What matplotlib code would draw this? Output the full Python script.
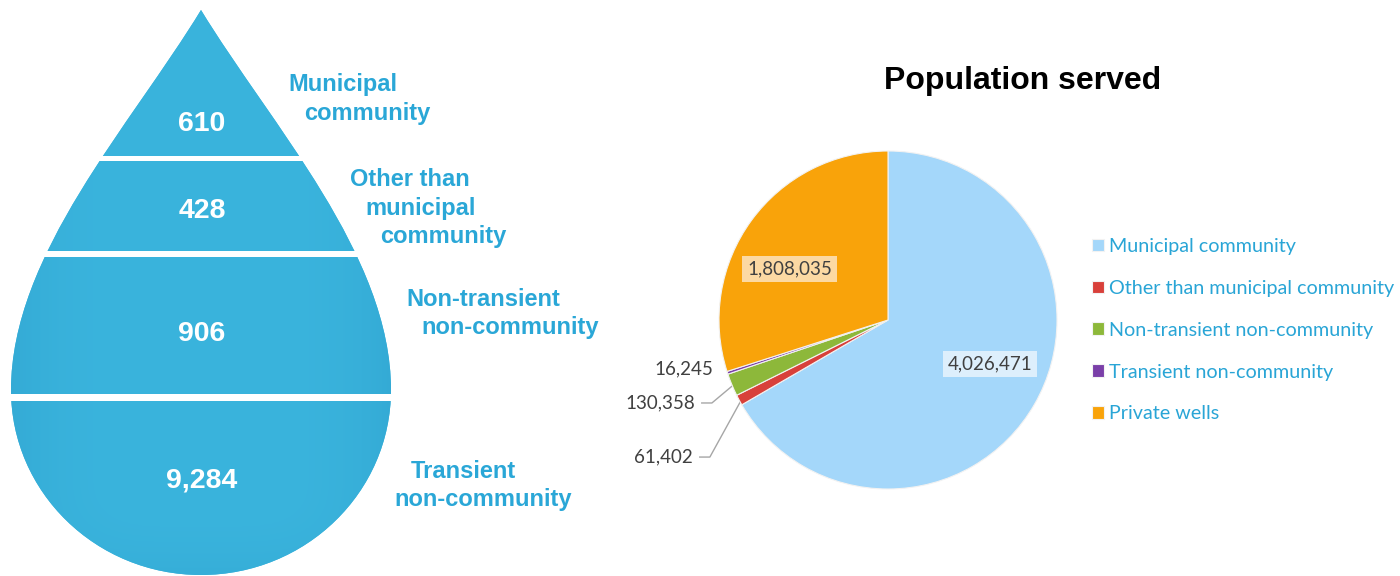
import matplotlib
matplotlib.use("Agg")
import matplotlib.pyplot as plt
import numpy as np
from matplotlib.path import Path
from matplotlib.patches import PathPatch, Rectangle

# ---------------- data ----------------
drop_labels = [["Municipal", "community"],
               ["Other than", "municipal", "community"],
               ["Non-transient", "non-community"],
               ["Transient", "non-community"]]
drop_counts = [610, 428, 906, 9284]

pie_categories = ["Municipal community", "Other than municipal community",
                  "Non-transient non-community", "Transient non-community",
                  "Private wells"]
population = [4026471, 61402, 130358, 16245, 1808035]
pie_colors = ["#A4D7FA", "#D8403A", "#8DB83A", "#7A3FA8", "#F9A30A"]
title = "Population served"

DROP_BLUE = "#3AB4DD"
LABEL_BLUE = "#2AA7D7"
LEGEND_BLUE = "#29A5D6"

fig = plt.figure(figsize=(14, 5.76), dpi=100)

# ---------------- water drop (pixel-space axes) ----------------
ax0 = fig.add_axes([0, 0, 1, 1])
ax0.set_xlim(0, 1400)
ax0.set_ylim(576, 0)
ax0.axis("off")

cx, tip_y, mid_y, hw, bot_y = 201, 10, 390, 190, 575
k = 0.5523
ry = bot_y - mid_y
verts = [
    (cx, tip_y),
    (cx + 70, tip_y + 115), (cx + hw, mid_y - 135), (cx + hw, mid_y),
    (cx + hw, mid_y + k * ry), (cx + k * hw, bot_y), (cx, bot_y),
    (cx - k * hw, bot_y), (cx - hw, mid_y + k * ry), (cx - hw, mid_y),
    (cx - hw, mid_y - 135), (cx - 70, tip_y + 115), (cx, tip_y),
    (cx, tip_y),
]
codes = [Path.MOVETO] + [Path.CURVE4] * 12 + [Path.CLOSEPOLY]
drop_path = Path(verts, codes)
drop_patch = PathPatch(drop_path, facecolor=DROP_BLUE, edgecolor="none", zorder=1)
ax0.add_patch(drop_patch)

# subtle shading inside the drop
xs = np.linspace(cx - hw, cx + hw, 300)
ys = np.linspace(tip_y, bot_y, 300)
X, Y = np.meshgrid(xs, ys)
d = np.abs(X - cx) / hw
shade = 0.08 * d ** 4 + 0.05 * np.clip((Y - 470) / 105, 0, 1) ** 3
base = np.array(matplotlib.colors.to_rgb(DROP_BLUE))
dark = np.array([0.13, 0.55, 0.74])
img = base[None, None, :] * (1 - shade[..., None] * 3) + dark[None, None, :] * (shade[..., None] * 3)
img = np.clip(img, 0, 1)
im = ax0.imshow(img, extent=(cx - hw, cx + hw, bot_y, tip_y), zorder=2, aspect="auto")
im.set_clip_path(drop_patch)

# white separators
for y, h in [(158.5, 5.5), (254, 6), (397.5, 7)]:
    ax0.add_patch(Rectangle((0, y - h / 2), 400, h, facecolor="white",
                            edgecolor="none", zorder=3))

num_y = [124, 211, 334, 481]
for cnt, y in zip(drop_counts, num_y):
    ax0.text(cx + 1, y, f"{cnt:,}", ha="center", va="center", color="white",
             fontsize=20.5, fontweight="bold", family="Liberation Sans", zorder=4)

label_pos = [[(288, 85), (304, 113.5)],
             [(350, 180), (365, 208.6), (380, 237)],
             [(406, 299.5), (421, 327.6)],
             [(411, 472), (394, 499.6)]]
for lines, poss in zip(drop_labels, label_pos):
    for t, (x, y) in zip(lines, poss):
        ax0.text(x, y, t, ha="left", va="center", color=LABEL_BLUE,
                 fontsize=17, fontweight="bold", family="Liberation Sans")

# ---------------- pie ----------------
pcx, pcy, pr = 888, 320, 169
ax1 = fig.add_axes([(pcx - pr) / 1400, (576 - pcy - pr) / 576,
                    2 * pr / 1400, 2 * pr / 576])
wedges, _ = ax1.pie(population, colors=pie_colors, startangle=90,
                    counterclock=False, radius=1,
                    wedgeprops=dict(edgecolor="#F2F2F2", linewidth=0.8))
ax1.set_xlim(-1, 1)
ax1.set_ylim(-1, 1)
ax1.set_aspect("equal")
ax1.set_clip_on(False)

lab_font = dict(family="Lato", fontsize=13.5, color="#404040")
ax1.text(0.604, -0.260, f"{population[0]:,}", ha="center", va="center",
         bbox=dict(boxstyle="square,pad=0.25", facecolor="#DDEFFC", edgecolor="none"),
         **lab_font)
ax1.text(-0.583, 0.302, f"{population[4]:,}", ha="center", va="center",
         bbox=dict(boxstyle="square,pad=0.25", facecolor="#FCD9A3", edgecolor="none"),
         **lab_font)

# outside labels with leader lines
out_text = {3: (-1.036, -0.290), 2: (-1.142, -0.491), 1: (-1.154, -0.811)}
for i, (tx, ty) in out_text.items():
    ax1.text(tx, ty, f"{population[i]:,}", ha="right", va="center",
             clip_on=False, **lab_font)
    if i in (1, 2):
        w = wedges[i]
        ang = np.deg2rad((w.theta1 + w.theta2) / 2)
        px, py = 0.98 * np.cos(ang), 0.98 * np.sin(ang)
        ax1.plot([tx + 0.04, tx + 0.10, px], [ty, ty, py], color="#A6A6A6",
                 lw=1, clip_on=False, zorder=0.5)

fig.text(1023 / 1400, 1 - 89 / 576, title, ha="center", va="baseline",
         fontsize=23, fontweight="bold", family="Liberation Sans", color="black")

leg = ax1.legend(wedges, pie_categories, loc="upper left",
                 bbox_to_anchor=(1092 / 1400, 1 - 238 / 576),
                 bbox_transform=fig.transFigure, frameon=False,
                 prop=dict(family="Lato", size=14.2), labelcolor=LEGEND_BLUE,
                 handlelength=0.6, handleheight=0.6, handletextpad=0.25,
                 labelspacing=1.26, borderpad=0, borderaxespad=0)

fig.savefig("out.png", dpi=100, facecolor="white")
